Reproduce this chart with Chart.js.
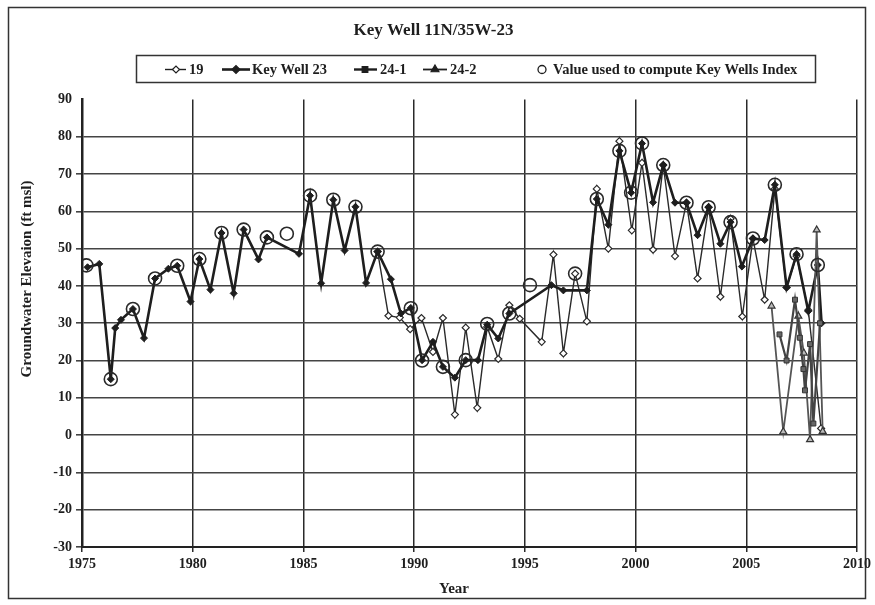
<!DOCTYPE html>
<html>
<head>
<meta charset="utf-8">
<script src="https://cdn.jsdelivr.net/npm/chart.js@4"></script>
<style>
  html, body { margin: 0; padding: 0; background: #fff; }
  #wrap { width: 875px; height: 605px; }
</style>
</head>
<body>
<div id="wrap"><canvas id="wellChart" width="875" height="605"></canvas></div>
<script>
// readings taken off the scanned chart (decimal year, ft msl)
const kw23Years = [1975.25, 1975.78, 1976.3, 1976.5, 1976.76, 1977.3, 1977.8, 1978.3, 1978.9, 1979.3,
  1979.9, 1980.3, 1980.8, 1981.3, 1981.85, 1982.3, 1982.97, 1983.35, 1984.8, 1985.3,
  1985.8, 1986.35, 1986.86, 1987.35, 1987.83, 1988.35, 1988.95, 1989.4, 1989.85, 1990.36,
  1990.85, 1991.3, 1991.84, 1992.33, 1992.88, 1993.3, 1993.8, 1994.3, 1996.2, 1996.74,
  1997.8, 1998.25, 1998.77, 1999.27, 1999.8, 2000.29, 2000.79, 2001.25, 2001.78, 2002.3,
  2002.8, 2003.3, 2003.83, 2004.29, 2004.8, 2005.3, 2005.83, 2006.29, 2006.82, 2007.27,
  2007.8, 2008.23, 2008.4];
const kw23Values = [45, 45.9, 15, 28.7, 30.9, 33.8, 26, 42, 44.6, 45.4,
  35.8, 47.2, 39, 54.2, 38, 55.1, 47.1, 53, 48.6, 64.2,
  40.7, 63.1, 49.5, 61.2, 40.8, 49.2, 41.8, 32.6, 34.1, 20.1,
  25, 18.3, 15.4, 20.1, 20.1, 29.6, 25.9, 32.6, 40.2, 38.8,
  38.8, 63.3, 56.4, 76.2, 65, 78.2, 62.4, 72.4, 62.3, 62.3,
  53.6, 61.1, 51.3, 57.1, 45.2, 52.7, 52.3, 67.1, 39.6, 48.5,
  33.2, 45.6, 30];

const w19Years = [1988.35, 1988.84, 1989.35, 1989.82, 1990.33, 1990.85, 1991.3, 1991.84, 1992.33, 1992.85,
  1993.3, 1993.8, 1994.3, 1994.77, 1995.76, 1996.29, 1996.74, 1997.27, 1997.8, 1998.25,
  1998.77, 1999.27, 1999.83, 2000.29, 2000.79, 2001.25, 2001.78, 2002.3, 2002.8, 2003.3,
  2003.83, 2004.29, 2004.82, 2005.3, 2005.83, 2006.29, 2006.82, 2007.27, 2007.8, 2008.38];
const w19Values = [49.2, 32, 31.5, 28.4, 31.4, 22.3, 31.4, 5.5, 28.8, 7.3,
  29, 20.4, 34.8, 31.2, 25, 48.4, 21.9, 43.3, 30.5, 66,
  50, 78.8, 54.9, 73, 49.7, 72.4, 48, 62.3, 42, 61.1,
  37.1, 58, 31.8, 52.7, 36.3, 66, 39.6, 48, 33.5, 1.8];

const w241Years = [2006.5, 2006.82, 2007.2, 2007.42, 2007.58, 2007.65, 2007.88, 2008.03, 2008.33];
const w241Values = [27, 20, 36.3, 26.1, 17.7, 12, 24.4, 3.1, 30];

const w242Years = [2006.14, 2006.67, 2007.35, 2007.6, 2007.88, 2008.18, 2008.45];
const w242Values = [34.6, 0.9, 31.9, 22, -1.2, 55, 1];

const indexYears = [1975.2, 1976.3, 1977.3, 1978.3, 1979.3, 1980.3, 1981.3, 1982.3, 1983.35, 1984.25,
  1985.3, 1986.35, 1987.35, 1988.35, 1989.85, 1990.36, 1991.3, 1992.33, 1993.3, 1994.3,
  1995.23, 1997.27, 1998.25, 1999.27, 1999.8, 2000.29, 2001.25, 2002.3, 2003.3, 2004.29,
  2005.3, 2006.29, 2007.27, 2008.23];
const indexValues = [45.5, 15, 33.8, 42, 45.4, 47.2, 54.2, 55.1, 53, 54,
  64.2, 63.1, 61.2, 49.2, 34, 20, 18.3, 20.1, 29.8, 32.6,
  40.2, 43.3, 63.3, 76.2, 65, 78.2, 72.4, 62.3, 61.1, 57.1,
  52.7, 67.1, 48.5, 45.6];

const yearTicks = [1975, 1980, 1985, 1990, 1995, 2000, 2005, 2010];

const ink = '#1e1e1e';
const serif = "'Liberation Serif', 'Times New Roman', serif";

function pts(xs, ys) {
    return xs.map(function(x, i) { return { x: x, y: ys[i] }; });
}

// legend entries: line start x, marker x, text x
const legendItems = [
    { text: '19', x0: 165, x1: 186, mx: 176, tx: 189, line: 1.4, style: 'rectRot', fill: '#fff', r: 3.5 },
    { text: 'Key Well 23', x0: 222, x1: 250, mx: 236, tx: 252, line: 2.6, style: 'rectRot', fill: ink, r: 4 },
    { text: '24-1', x0: 354, x1: 377, mx: 365, tx: 380, line: 2.4, style: 'rect', fill: ink, r: 4 },
    { text: '24-2', x0: 423, x1: 447, mx: 435, tx: 450, line: 1.8, style: 'triangle', fill: ink, r: 4.5 },
    { text: 'Value used to compute Key Wells Index', x0: 0, x1: 0, mx: 542, tx: 553, line: 0, style: 'circle', fill: 'rgba(0,0,0,0)', r: 4 }
];

const frameAndLegend = {
    id: 'frameAndLegend',
    beforeDraw(chart) {
        const ctx = chart.ctx;
        ctx.save();
        ctx.fillStyle = '#fff';
        ctx.fillRect(0, 0, chart.width, chart.height);
        ctx.strokeStyle = '#333';
        ctx.lineWidth = 1.5;
        ctx.strokeRect(8.5, 7.5, 857, 591);
        ctx.restore();
    },
    afterDraw(chart) {
        const ctx = chart.ctx;
        const area = chart.chartArea;
        ctx.save();
        ctx.strokeStyle = '#333';
        ctx.lineWidth = 1.5;
        ctx.strokeRect(136.5, 55.5, 679, 27);
        ctx.font = 'bold 14.5px ' + serif;
        ctx.textBaseline = 'middle';
        const cy = 69.5;
        legendItems.forEach(function(it) {
            ctx.strokeStyle = ink;
            if (it.line > 0) {
                ctx.lineWidth = it.line;
                ctx.beginPath();
                ctx.moveTo(it.x0, cy);
                ctx.lineTo(it.x1, cy);
                ctx.stroke();
                ctx.lineWidth = 1.2;
                ctx.fillStyle = it.fill;
                Chart.helpers.drawPoint(ctx, { pointStyle: it.style, radius: it.r, rotation: 0, borderWidth: 1.2 }, it.mx, cy);
            } else {
                ctx.lineWidth = 1.3;
                ctx.beginPath();
                ctx.arc(it.mx, cy, it.r, 0, Math.PI * 2);
                ctx.stroke();
            }
            ctx.fillStyle = ink;
            ctx.fillText(it.text, it.tx, cy + 1);
        });

        // axis titles
        ctx.fillStyle = ink;
        ctx.textAlign = 'center';
        ctx.font = 'bold 15px ' + serif;
        ctx.fillText('Year', 454, 589);
        ctx.translate(27, 279);
        ctx.rotate(-Math.PI / 2);
        ctx.fillText('Groundwater Elevaion (ft msl)', 0, 0);
        ctx.restore();
    }
};

new Chart(document.getElementById('wellChart').getContext('2d'), {
    type: 'line',
    data: {
        datasets: [
            {
                label: 'Value used to compute Key Wells Index',
                data: pts(indexYears, indexValues),
                showLine: false,
                pointStyle: 'circle',
                pointRadius: 6.5,
                pointBorderWidth: 1.6,
                pointBorderColor: '#2a2a2a',
                pointBackgroundColor: 'rgba(0,0,0,0)',
                order: 0
            },
            {
                label: '19',
                data: pts(w19Years, w19Values),
                borderColor: '#2a2a2a',
                borderWidth: 1.4,
                pointStyle: 'rectRot',
                pointRadius: 3.5,
                pointBorderWidth: 1.2,
                pointBorderColor: '#2a2a2a',
                pointBackgroundColor: '#fff',
                order: 3
            },
            {
                label: 'Key Well 23',
                data: pts(kw23Years, kw23Values),
                borderColor: ink,
                borderWidth: 2.6,
                pointStyle: 'rectRot',
                pointRadius: 3.5,
                pointBorderWidth: 1,
                pointBorderColor: ink,
                pointBackgroundColor: ink,
                order: 2
            },
            {
                label: '24-1',
                data: pts(w241Years, w241Values),
                borderColor: '#444',
                borderWidth: 2.2,
                pointStyle: 'rect',
                pointRadius: 3.5,
                pointBorderWidth: 1,
                pointBorderColor: '#333',
                pointBackgroundColor: '#666',
                order: 1
            },
            {
                label: '24-2',
                data: pts(w242Years, w242Values),
                borderColor: '#555',
                borderWidth: 1.8,
                pointStyle: 'triangle',
                pointRadius: 4,
                pointBorderWidth: 1.2,
                pointBorderColor: '#333',
                pointBackgroundColor: '#bbb',
                order: 1
            }
        ]
    },
    options: {
        responsive: false,
        animation: false,
        layout: { padding: { left: 10, right: 18, top: 10, bottom: 8 } },
        plugins: {
            legend: { display: false },
            tooltip: { enabled: false },
            title: {
                display: true,
                text: 'Key Well 11N/35W-23',
                color: ink,
                font: { family: serif, size: 17, weight: 'bold' },
                padding: { top: 10, bottom: 59 }
            }
        },
        scales: {
            x: {
                type: 'linear',
                min: 1975,
                max: 2010,
                afterBuildTicks: function(scale) {
                    scale.ticks = yearTicks.map(function(v) { return { value: v }; });
                },
                afterFit: function(scale) { scale.height = 50; },
                ticks: {
                    color: ink,
                    font: { family: serif, size: 14, weight: 'bold' },
                    padding: 4,
                    maxRotation: 0,
                    callback: function(v) { return String(v); }
                },
                grid: { color: '#2a2a2a', lineWidth: 1.5, tickLength: 5 },
                border: { color: '#222', width: 2 }
            },
            y: {
                min: -30,
                max: 90,
                afterFit: function(scale) { scale.width = 72; },
                ticks: {
                    stepSize: 10,
                    color: ink,
                    font: { family: serif, size: 14, weight: 'bold' },
                    padding: 4
                },
                grid: {
                    color: function(c) { return c.tick && c.tick.value === 90 ? 'rgba(0,0,0,0)' : '#444'; },
                    lineWidth: 1.6,
                    tickLength: 6
                },
                border: { color: '#222', width: 2.5 }
            }
        }
    },
    plugins: [frameAndLegend]
});
</script>
</body>
</html>
